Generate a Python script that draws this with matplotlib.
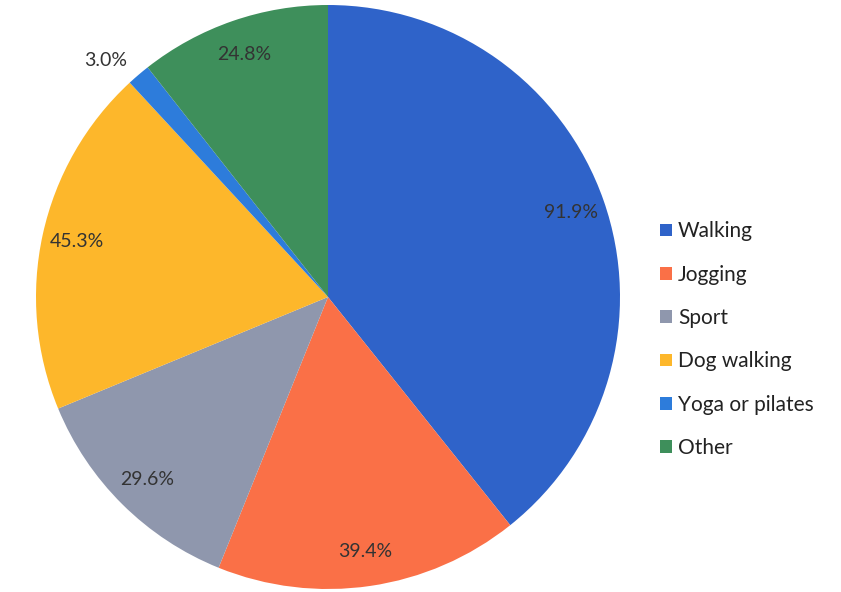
import matplotlib.pyplot as plt
from matplotlib.patches import Patch

# Share of respondents taking part in each activity (%)
activities = ['Walking', 'Jogging', 'Sport', 'Dog walking', 'Yoga or pilates', 'Other']
shares = [91.9, 39.4, 29.6, 45.3, 3.0, 24.8]
colours = ['#2f63c9', '#fa7047', '#8f97ad', '#fdb72b', '#2d7cdb', '#3e8f5b']

plt.rcParams['font.family'] = ['Lato', 'DejaVu Sans']

W, H = 841, 592
fig = plt.figure(figsize=(W / 100, H / 100), dpi=100)
fig.patch.set_facecolor('white')

# pie centred at (328, 297) px with a 292 px radius
cx, cy, r = 328, 297, 292
ax = fig.add_axes([(cx - r) / W, (H - cy - r) / H, 2 * r / W, 2 * r / H])

wedges, texts, autotexts = ax.pie(
    shares, colors=colours, startangle=90, counterclock=False,
    autopct=lambda p: '', pctdistance=0.88, radius=1.0,
    wedgeprops=dict(linewidth=0))

# value labels, placed the same way as the autopct ones
for val, t in zip(shares, autotexts):
    t.set_text(f'{val:.1f}%')
    t.set_fontsize(14)
    t.set_color('#333333')

# the thin yoga slice gets its label outside the pie, upper left
autotexts[4].set_position((-0.76, 0.81))

ax.set_xlim(-1, 1)
ax.set_ylim(-1, 1)
ax.set_aspect('equal')
ax.axis('off')

handles = [Patch(facecolor=c, edgecolor='none') for c in colours]
fig.legend(handles, activities, loc='upper left',
           bbox_to_anchor=(652 / W, 1 - 213 / H), frameon=False,
           fontsize=15, handlelength=0.55, handleheight=0.55,
           handletextpad=0.3, labelspacing=1.12, borderaxespad=0,
           labelcolor='#222222')

fig.savefig('out.png', dpi=100, facecolor='white')
